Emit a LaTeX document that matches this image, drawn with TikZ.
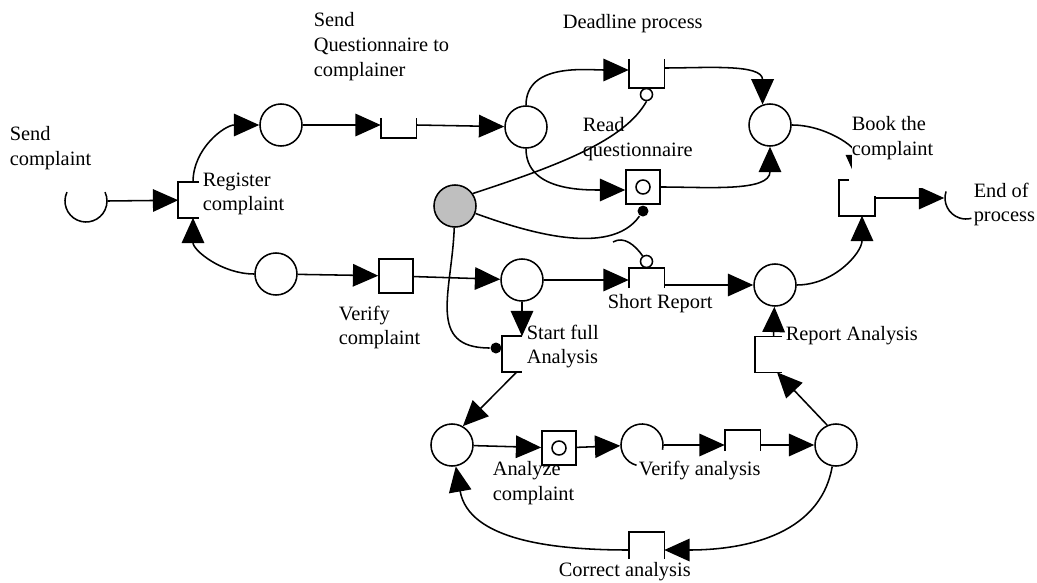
\documentclass[tikz,border=0pt]{standalone}
\usepackage{fontspec}
\setmainfont{Liberation Serif}
\usetikzlibrary{arrows.meta,calc}

\begin{document}
\begin{tikzpicture}[x=0.025cm, y=-0.025cm, line width=1.1pt,
    place/.style={circle, draw, minimum size=1.05cm, inner sep=0pt},
    hidden/.style={circle, minimum size=1.05cm, inner sep=0pt},
    task/.style={rectangle, minimum size=0.85cm, inner sep=0pt},
    ring/.style={circle, draw, minimum size=0.3cm, inner sep=0pt},
    dot/.style={circle, fill, minimum size=0.275cm, inner sep=0pt},
    flow/.style={-{Triangle[length=18pt,width=16pt]}},
    lbl/.style={align=left, anchor=north west, inner sep=0pt, font=\fontsize{14.5}{17.5}\selectfont}]

    \useasboundingbox (0,0) rectangle (1037,583);

    
    \node[hidden] (inp) at (86,201) {};
    \node[hidden] (outp) at (966,198) {};
    \node[place] (p1) at (281,125) {};
    \node[place] (p2) at (276,274) {};
    \node[place] (p3) at (526,127) {};
    \node[place, fill=black!25] (grey) at (455,206) {};
    \node[place] (p9) at (770,125) {};
    \node[place] (p4) at (522,280) {};
    \node[place] (p5) at (775,285) {};
    \node[place] (p6) at (452,445) {};
    \node[hidden] (p7) at (642,445) {};
    \node[place] (p8) at (836,445) {};

    \draw ([shift={(155:0.525cm)}]inp.center) arc[start angle=155, end angle=385, radius=0.525cm];
    \draw ([shift={(162:0.525cm)}]outp.center) arc[start angle=162, end angle=285, radius=0.525cm];
    \draw ([shift={(-13:0.525cm)}]p7.center) arc[start angle=-13, end angle=255, radius=0.525cm];

    
    \node[task] (reg) at (196,200) {};
    \node[task] (sq) at (398.5,120) {};
    \node[task] (dl) at (646.5,70) {};
    \node[task, draw] (rq) at (643,187) {};
    \node[task] (sr) at (646.5,286) {};
    \node[task, draw] (vc) at (396,276) {};
    \node[task] (sfa) at (520,354) {};
    \node[task, draw] (ac) at (559,448) {};
    \node[task] (va) at (742.5,448) {};
    \node[task] (ca) at (646.5,550) {};
    \node[task] (ra) at (773,354.5) {};
    \node[task] (bc) at (857,198) {};

    \foreach \t/\h in {sq/20, dl/29}
        \draw ($(\t.south west)+(0,-\h)$) -- (\t.south west) -- (\t.south east) -- ++(0,-\h);
    \foreach \t/\h in {sr/20, va/21, ca/27}
        \draw ($(\t.north west)+(0,\h)$) -- (\t.north west) -- (\t.north east) -- ++(0,\h);
    \foreach \t/\w in {reg/21, sfa/20, ra/27}
        \draw ($(\t.north west)+(\w,0)$) -- (\t.north west) -- (\t.south west) -- ++(\w,0);
    \draw ($(bc.north west)+(10,0)$) -- (bc.north west) -- (bc.south west) -- (bc.south east) -- ++(0,-20);

    \node[ring, anchor=north] (dlc) at (dl.south) {};
    \node[ring, minimum size=0.35cm] (rqc) at (rq) {};
    \node[dot, anchor=north] (rqd) at (rq.south) {};
    \node[ring, anchor=south] (src) at (sr.north) {};
    \node[dot, anchor=east] (sfad) at ($(sfa.west)+(0,-6)$) {};
    \node[ring, minimum size=0.35cm] (acc) at (ac) {};

    
    \draw[flow] (inp.east) -- (reg);
    \draw[flow] ($(reg.north)+(-3,0)$) to[out=90,in=180] (p1);
    \draw[flow] (p2) to[out=180,in=270] ($(reg.south)+(-3,0)$);
    \draw[flow] (p1) -- (sq.west |- p1);
    \draw[flow] (sq.east |- p1) -- (p3);
    \draw[flow] (p3) to[out=90,in=180] (dl);
    \draw[flow] (p3) to[out=270,in=180] ($(rq.west)+(0,3)$);
    \draw[flow] ($(dl.east)+(0,-2)$) to[out=0,in=90] (p9.110);
    \draw[flow] (rq) to[out=0,in=270] (p9);
    \draw[flow] (p9) to[out=0,in=90] (bc.north);
    \draw[flow] (bc) -- (outp);
    \draw[flow] (p2) -- (vc);
    \draw[flow] (vc) -- (p4);
    \draw[flow] (p4) -- (sr.west |- p4);
    \draw[flow] (sr.east |- p5) -- (p5);
    \draw[flow] (p4) -- (p4 |- sfa.north);
    \draw[flow] ($(sfa.south)+(-3,0)$) -- (p6.60);
    \draw[flow] (p6) -- (ac);
    \draw[flow] (ac) -- (p7);
    \draw[flow] (p7) -- (va.west |- p7);
    \draw[flow] (va.east |- p8) -- (p8);
    \draw[flow] (p8.114) -- ($(ra.south)+(4,0)$);
    \draw[flow] (ra) -- (p5);
    \draw[flow] (p5) to[out=0,in=270] ($(bc.south)+(5,0)$);
    \draw[flow] (p8) to[out=-100,in=0] (ca);
    \draw[flow] (ca) to[out=180,in=-80] (p6);

    
    \draw (grey.35) .. controls (560,165) and (625,140) .. (dlc.south);
    \draw (grey) to[out=-20,in=235,looseness=0.8] (rqd);
    \draw (grey) to[out=268,in=180,looseness=1.3] (sfad);
    \coordinate (cut) at (613,242);
    \draw (cut) to[out=30,in=125] (src);

    
    \node[lbl] (lsc) at (9,126) {Send\\complaint};
    \node[lbl] (lsq) at (313,12) {Send\\Questionnaire to\\complainer};
    \node[lbl] (ldl) at (562,14) {Deadline process};
    \node[lbl] (lrq) at (582,117) {Read\\questionnaire};
    \node[lbl] (lreg) at (202,172) {Register\\complaint};
    \node[lbl] (lvc) at (338,305) {Verify\\complaint};
    \node[lbl] (lsfa) at (526,324) {Start full\\Analysis};
    \node[lbl] (lsr) at (607,294) {Short Report};
    \node[lbl] (lra) at (785,326) {Report Analysis};
    \node[lbl] (lac) at (492,461) {Analyze\\complaint};
    \node[lbl] (lva) at (638,460) {Verify analysis};
    \node[lbl] (lca) at (558,562) {Correct analysis};
    \node[lbl] (leop) at (973,182) {End of\\process};
    \node[lbl, fill=white] (lbc) at (851,116) {Book the\\complaint\rule[-23pt]{0pt}{1pt}};
\end{tikzpicture}
\end{document}
